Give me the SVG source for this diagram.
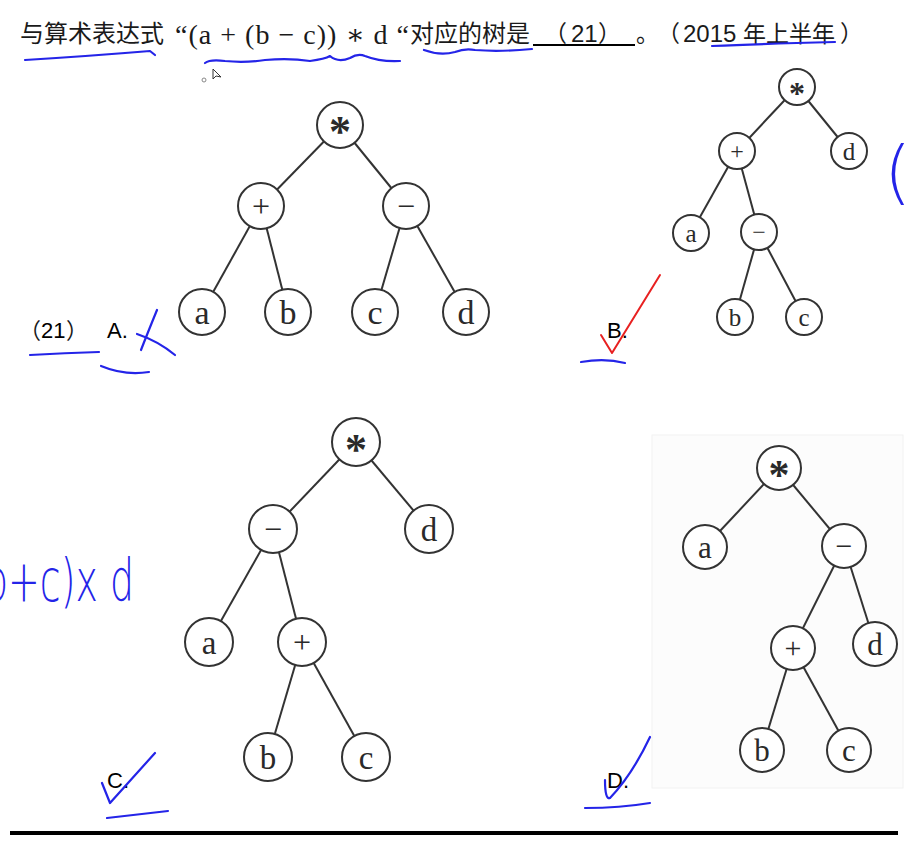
<svg xmlns="http://www.w3.org/2000/svg" width="915" height="844" viewBox="0 0 915 844">
<style>
.cjk{font-family:"Noto Sans CJK SC",sans-serif;fill:#1a1a1a}
.lat{font-family:"Liberation Sans","Noto Sans CJK SC",sans-serif;fill:#1a1a1a}
.ser{font-family:"Liberation Serif","DejaVu Serif",serif;fill:#1a1a1a}
.lbl{font-family:"Liberation Sans","Noto Sans CJK SC",sans-serif;font-size:22px;fill:#000}
.edge{stroke:#333;stroke-width:2;fill:none}
.nd{fill:#fff;stroke:#333;stroke-width:2}
.nt{font-family:"Liberation Serif","DejaVu Serif",serif;fill:#2a2a2a;text-anchor:middle}
.ink{stroke:#2424e8;stroke-width:2.2;fill:none;stroke-linecap:round;stroke-linejoin:round}
.red{stroke:#e82020;stroke-width:2;fill:none;stroke-linecap:round;stroke-linejoin:round}
.hw{font-family:"DejaVu Sans",sans-serif;font-weight:200;fill:#2424e8}
</style>
<rect width="915" height="844" fill="#fff"/>
<!-- title -->
<g id="title">
<text class="cjk" x="20" y="42" font-size="24">与算术表达式</text>
<text class="ser" x="175" y="44" font-size="28" textLength="234" lengthAdjust="spacing">“(a + (b − c)) ∗ d “</text>
<text class="cjk" x="410" y="42" font-size="24">对应的树是</text>
<text class="cjk" x="544" y="42" font-size="23">（</text>
<text class="lat" x="571" y="42" font-size="24">21</text>
<text class="cjk" x="598" y="42" font-size="23">）</text>
<line x1="533" y1="45" x2="635" y2="45" stroke="#000" stroke-width="2"/>
<text class="cjk" x="636" y="42" font-size="23">。</text>
<text class="cjk" x="657" y="42" font-size="23">（</text>
<text class="lat" x="683" y="42" font-size="24">2015</text>
<text class="cjk" x="743" y="42" font-size="23">年上半年</text>
<text class="cjk" x="840" y="42" font-size="23">）</text>
<circle cx="204" cy="80" r="2" fill="none" stroke="#888" stroke-width="1"/>
<path d="M213,69 L213,79 L216,76 L221,77 Z" fill="#fff" stroke="#333" stroke-width="1"/>
</g>
<!-- light frame of D -->
<rect x="652" y="435" width="251" height="353" fill="#fcfcfc" stroke="#f2f2f2" stroke-width="1"/>
<!-- connectors -->
<g id="connectors" class="edge">
<line x1="340" y1="125" x2="261" y2="206"/><line x1="340" y1="125" x2="406" y2="206"/>
<line x1="261" y1="206" x2="202" y2="312"/><line x1="261" y1="206" x2="288" y2="312"/>
<line x1="406" y1="206" x2="375" y2="312"/><line x1="406" y1="206" x2="466" y2="312"/>
<line x1="797" y1="87" x2="737" y2="151"/><line x1="797" y1="87" x2="849" y2="151"/>
<line x1="737" y1="151" x2="691" y2="233"/><line x1="737" y1="151" x2="759" y2="232"/>
<line x1="759" y1="232" x2="735" y2="317"/><line x1="759" y1="232" x2="804" y2="317"/>
<line x1="356" y1="442" x2="273" y2="529"/><line x1="356" y1="442" x2="429" y2="529"/>
<line x1="273" y1="529" x2="209" y2="642"/><line x1="273" y1="529" x2="302" y2="642"/>
<line x1="302" y1="642" x2="268" y2="757"/><line x1="302" y1="642" x2="366" y2="757"/>
<line x1="779" y1="468" x2="705" y2="547"/><line x1="779" y1="468" x2="844" y2="546"/>
<line x1="844" y1="546" x2="793" y2="648"/><line x1="844" y1="546" x2="875" y2="644"/>
<line x1="793" y1="648" x2="762" y2="750"/><line x1="793" y1="648" x2="849" y2="750"/>
</g>
<!-- Tree A -->
<g id="A-mul"><circle class="nd" cx="340" cy="125" r="23"/><text class="nt" x="340" y="146" font-size="44" font-weight="bold">*</text></g>
<g id="A-plus"><circle class="nd" cx="261" cy="206" r="23"/><text class="nt" x="261" y="217" font-size="32">+</text></g>
<g id="A-minus"><circle class="nd" cx="406" cy="206" r="23"/><text class="nt" x="406" y="217" font-size="32">−</text></g>
<g id="A-a"><circle class="nd" cx="202" cy="312" r="23"/><text class="nt" x="202" y="324" font-size="34">a</text></g>
<g id="A-b"><circle class="nd" cx="288" cy="312" r="23"/><text class="nt" x="288" y="324" font-size="34">b</text></g>
<g id="A-c"><circle class="nd" cx="375" cy="312" r="23"/><text class="nt" x="375" y="324" font-size="34">c</text></g>
<g id="A-d"><circle class="nd" cx="466" cy="312" r="23"/><text class="nt" x="466" y="324" font-size="34">d</text></g>
<!-- Tree B -->
<g id="B-mul"><circle class="nd" cx="797" cy="87" r="18"/><text class="nt" x="797" y="104" font-size="32" font-weight="bold">*</text></g>
<g id="B-plus"><circle class="nd" cx="737" cy="151" r="18"/><text class="nt" x="737" y="159" font-size="24">+</text></g>
<g id="B-d"><circle class="nd" cx="849" cy="151" r="18"/><text class="nt" x="849" y="160" font-size="25">d</text></g>
<g id="B-a"><circle class="nd" cx="691" cy="233" r="18"/><text class="nt" x="691" y="242" font-size="25">a</text></g>
<g id="B-minus"><circle class="nd" cx="759" cy="232" r="18"/><text class="nt" x="759" y="240" font-size="24">−</text></g>
<g id="B-b"><circle class="nd" cx="735" cy="317" r="18"/><text class="nt" x="735" y="326" font-size="25">b</text></g>
<g id="B-c"><circle class="nd" cx="804" cy="317" r="18"/><text class="nt" x="804" y="326" font-size="25">c</text></g>
<!-- Tree C -->
<g id="C-mul"><circle class="nd" cx="356" cy="442" r="24"/><text class="nt" x="356" y="464" font-size="44" font-weight="bold">*</text></g>
<g id="C-minus"><circle class="nd" cx="273" cy="529" r="24"/><text class="nt" x="273" y="540" font-size="32">−</text></g>
<g id="C-d"><circle class="nd" cx="429" cy="529" r="24"/><text class="nt" x="429" y="541" font-size="33">d</text></g>
<g id="C-a"><circle class="nd" cx="209" cy="642" r="24"/><text class="nt" x="209" y="654" font-size="33">a</text></g>
<g id="C-plus"><circle class="nd" cx="302" cy="642" r="24"/><text class="nt" x="302" y="653" font-size="32">+</text></g>
<g id="C-b"><circle class="nd" cx="268" cy="757" r="24"/><text class="nt" x="268" y="769" font-size="33">b</text></g>
<g id="C-c"><circle class="nd" cx="366" cy="757" r="24"/><text class="nt" x="366" y="769" font-size="33">c</text></g>
<!-- Tree D -->
<g id="D-mul"><circle class="nd" cx="779" cy="468" r="22"/><text class="nt" x="779" y="489" font-size="42" font-weight="bold">*</text></g>
<g id="D-a"><circle class="nd" cx="705" cy="547" r="22"/><text class="nt" x="705" y="558" font-size="31">a</text></g>
<g id="D-minus"><circle class="nd" cx="844" cy="546" r="22"/><text class="nt" x="844" y="556" font-size="30">−</text></g>
<g id="D-plus"><circle class="nd" cx="793" cy="648" r="22"/><text class="nt" x="793" y="658" font-size="30">+</text></g>
<g id="D-d"><circle class="nd" cx="875" cy="644" r="22"/><text class="nt" x="875" y="655" font-size="31">d</text></g>
<g id="D-b"><circle class="nd" cx="762" cy="750" r="22"/><text class="nt" x="762" y="761" font-size="31">b</text></g>
<g id="D-c"><circle class="nd" cx="849" cy="750" r="22"/><text class="nt" x="849" y="761" font-size="31">c</text></g>
<!-- option labels -->
<g id="labels">
<text class="cjk" x="19" y="338" font-size="22">（</text>
<text class="lbl" x="41" y="338">21</text>
<text class="cjk" x="66" y="338" font-size="22">）</text>
<text class="lbl" x="107" y="338">A.</text>
<text class="lbl" x="607" y="338">B.</text>
<text class="lbl" x="107" y="788">C.</text>
<text class="lbl" x="607" y="788">D.</text>
</g>
<!-- handwritten annotations -->
<g id="annotations">
<path class="ink" d="M25,60 Q90,56 150,51 L155,55"/>
<path class="ink" d="M205,63 Q210,59 225,61 Q245,63 265,60 Q290,58 310,61 Q325,59 330,56 Q338,63 350,58 Q358,53 365,56 Q380,62 400,61"/>
<path class="ink" d="M424,50 Q440,56 455,52 Q465,48 475,50 Q500,52 532,49"/>
<path class="ink" d="M712,46 Q760,44 835,42"/>
<path class="ink" d="M30,355 Q65,353 99,352"/>
<path class="ink" d="M101,366 Q125,376 149,372"/>
<path class="ink" d="M157,310 Q148,332 141,350"/>
<path class="ink" d="M137,334 Q158,341 175,355"/>
<path class="red" d="M601,335 L612,353 L660,275"/>
<path class="ink" d="M581,362 Q605,358 625,363"/>
<path class="ink" d="M102,783 L110,803 L155,753"/>
<path class="ink" d="M107,818 L168,811"/>
<path class="ink" d="M605,780 Q605,800 610,798 Q632,775 650,737"/>
<path class="ink" d="M585,808 Q620,808 650,803"/>
<text class="hw" x="-16" y="601" font-size="58" textLength="150" lengthAdjust="spacingAndGlyphs">b+c)x d</text>
<text class="hw" x="884" y="196" font-size="70">(a</text>
</g>
<!-- bottom rule -->
<line x1="10" y1="833" x2="898" y2="833" stroke="#000" stroke-width="4"/>
</svg>
